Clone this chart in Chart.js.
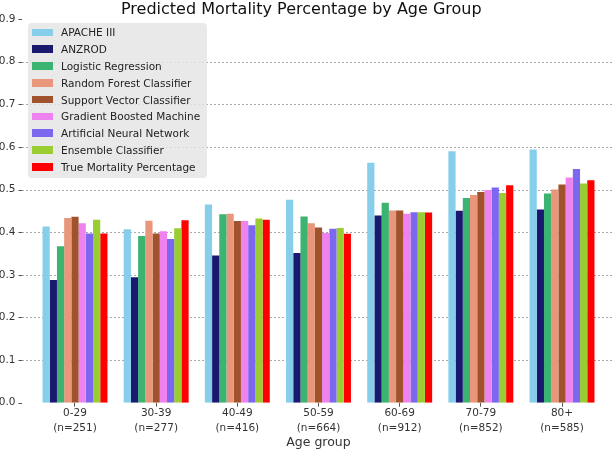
<!DOCTYPE html>
<html>
<head>
<meta charset="utf-8">
<script src="https://cdn.jsdelivr.net/npm/chart.js@4"></script>
<style>
  body { margin: 0; background: #fff; }
  #wrap { position: relative; width: 615px; height: 450px; }
  #legend {
    position: absolute; left: 28px; top: 23px; width: 179px; height: 155px;
    background: rgba(229,229,229,0.85); border-radius: 4px; box-sizing: border-box;
    padding-top: 1px; font: 10.5px 'DejaVu Sans', sans-serif; color: #222;
  }
  .row { display: flex; align-items: center; height: 16.8px; }
  .sw { width: 21px; height: 7.5px; margin-left: 4px; margin-right: 8px; }
</style>
</head>
<body>
<div id="wrap">
  <canvas id="chart"></canvas>
  <div id="legend"></div>
</div>
<script>
const ages = ['0-29', '30-39', '40-49', '50-59', '60-69', '70-79', '80+']
const counts = [251, 277, 416, 664, 912, 852, 585]

const apache       = [0.413, 0.407, 0.465, 0.476, 0.563, 0.590, 0.594]
const anzrod       = [0.288, 0.294, 0.345, 0.351, 0.439, 0.450, 0.453]
const logReg       = [0.367, 0.391, 0.442, 0.437, 0.469, 0.480, 0.491]
const randomForest = [0.433, 0.427, 0.443, 0.421, 0.451, 0.487, 0.500]
const svc          = [0.436, 0.397, 0.426, 0.411, 0.451, 0.494, 0.512]
const gbm          = [0.421, 0.402, 0.426, 0.398, 0.443, 0.499, 0.528]
const ann          = [0.397, 0.384, 0.416, 0.408, 0.447, 0.505, 0.548]
const ensemble     = [0.429, 0.409, 0.432, 0.410, 0.447, 0.492, 0.514]
const trueRate     = [0.397, 0.428, 0.429, 0.396, 0.446, 0.510, 0.522]

const seriesNames = ['APACHE III', 'ANZROD', 'Logistic Regression', 'Random Forest Classifier',
  'Support Vector Classifier', 'Gradient Boosted Machine', 'Artificial Neural Network',
  'Ensemble Classifier', 'True Mortality Percentage']
const seriesValues = [apache, anzrod, logReg, randomForest, svc, gbm, ann, ensemble, trueRate]
const seriesColors = ['#87CEEB', '#191970', '#3CB371', '#E9967A', '#A0522D', '#EE82EE', '#7B68EE', '#9ACD32', '#FF0000']
const yTicks = [0, 0.1, 0.2, 0.3, 0.4, 0.5, 0.6, 0.7, 0.8, 0.9]

const font = 'DejaVu Sans'

// matplotlib-style dashed grid that runs past the category area
const gridPlugin = {
  id: 'mplGrid',
  beforeDatasetsDraw(chart) {
    const ctx = chart.ctx
    const y = chart.scales.y
    ctx.save()
    yTicks.forEach((v, i) => {
      const py = Math.round(y.getPixelForValue(v)) + 0.5
      if (i > 0 && i < yTicks.length - 1) {
        ctx.strokeStyle = '#a0a0a0'
        ctx.lineWidth = 0.9
        ctx.setLineDash([2, 2])
        ctx.beginPath(); ctx.moveTo(22, py); ctx.lineTo(613, py); ctx.stroke()
      }
      ctx.setLineDash([])
      ctx.strokeStyle = '#555'
      ctx.lineWidth = 1
      ctx.beginPath(); ctx.moveTo(18.5, py); ctx.lineTo(22, py); ctx.stroke()
    })
    ctx.restore()
  }
}

const chart = new Chart(document.getElementById('chart'), {
  type: 'bar',
  data: {
    labels: ages.map((a, i) => [a, `(n=${counts[i]})`]),
    datasets: seriesNames.map((name, i) => ({
      label: name,
      data: seriesValues[i],
      backgroundColor: seriesColors[i],
      borderWidth: 0,
      categoryPercentage: 0.8,
      barPercentage: 1.0
    }))
  },
  options: {
    responsive: true,
    maintainAspectRatio: false,
    animation: false,
    layout: { padding: { top: 0, right: 12.4, bottom: 0, left: 0 } },
    plugins: {
      legend: { display: false },
      tooltip: { enabled: false },
      title: {
        display: true,
        text: 'Predicted Mortality Percentage by Age Group',
        color: '#111',
        font: { family: font, size: 16, weight: 'normal', lineHeight: 1.0 },
        padding: { top: 0, bottom: 1 }
      }
    },
    scales: {
      x: {
        border: { display: false },
        grid: { display: true, drawOnChartArea: false, drawTicks: true, tickLength: 4, tickColor: '#555', offset: false },
        ticks: { color: '#333', padding: 0, font: { family: font, size: 10.5, lineHeight: 1.35 }, maxRotation: 0 },
        title: { display: true, text: 'Age group', color: '#333', padding: 0, font: { family: font, size: 12.5, lineHeight: 1.2 } }
      },
      y: {
        min: 0,
        max: 0.9,
        border: { display: false },
        grid: { display: false, drawTicks: false },
        afterFit(scale) { scale.width = 34.4 },
        ticks: {
          stepSize: 0.1,
          color: '#333',
          padding: 19,
          font: { family: font, size: 10.5, lineHeight: 0.01 },
          callback: v => v.toFixed(1)
        }
      }
    }
  },
  plugins: [gridPlugin]
})

const legend = document.getElementById('legend')
chart.data.datasets.forEach(ds => {
  const row = document.createElement('div')
  row.className = 'row'
  row.innerHTML = `<span class="sw" style="background:${ds.backgroundColor}"></span><span>${ds.label}</span>`
  legend.appendChild(row)
})
</script>
</body>
</html>
